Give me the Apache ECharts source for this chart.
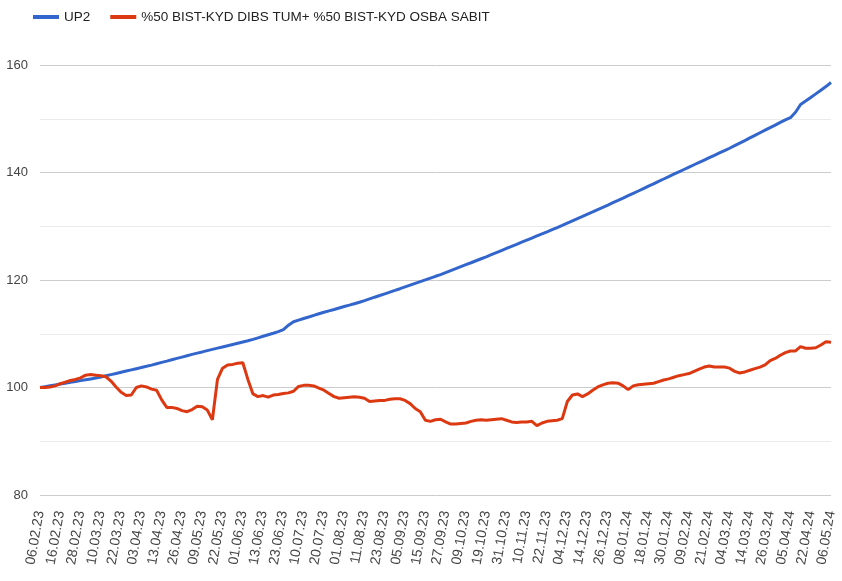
<!DOCTYPE html>
<html>
<head>
<meta charset="utf-8">
<script src="https://cdn.jsdelivr.net/npm/echarts@6/dist/echarts.min.js"></script>
<style>html,body{margin:0;padding:0;background:#fff;}#c{width:842px;height:581px;}</style>
</head>
<body>
<div id="c"></div>
<script>
const tickLabels = ["06.02.23","16.02.23","28.02.23","10.03.23","22.03.23","03.04.23","13.04.23","26.04.23","09.05.23","22.05.23","01.06.23","13.06.23","23.06.23","10.07.23","20.07.23","01.08.23","11.08.23","23.08.23","05.09.23","15.09.23","27.09.23","09.10.23","19.10.23","31.10.23","10.11.23","22.11.23","04.12.23","14.12.23","26.12.23","08.01.24","18.01.24","30.01.24","09.02.24","21.02.24","04.03.24","14.03.24","26.03.24","05.04.24","22.04.24","06.05.24"];

const seriesNames = ["UP2", "%50 BIST-KYD DIBS TUM+ %50 BIST-KYD OSBA SABIT"];

const up2 = [100.0,100.16,100.32,100.48,100.64,100.80,100.96,101.12,101.28,101.44,101.60,101.76,101.96,102.18,102.40,102.62,102.84,103.06,103.28,103.50,
103.72,103.94,104.17,104.42,104.67,104.91,105.16,105.41,105.66,105.91,106.16,106.40,106.62,106.86,107.09,107.32,107.55,107.78,108.01,108.24,
108.47,108.70,108.96,109.24,109.53,109.82,110.10,110.39,110.75,111.6,112.23,112.53,112.83,113.12,113.42,113.72,114.0,114.26,114.52,114.79,
115.06,115.32,115.59,115.86,116.16,116.48,116.80,117.11,117.43,117.75,118.06,118.38,118.71,119.04,119.37,119.70,120.03,120.36,120.69,121.01,
121.38,121.75,122.11,122.48,122.85,123.21,123.58,123.95,124.31,124.70,125.09,125.48,125.87,126.26,126.64,127.03,127.42,127.81,128.20,128.59,
128.97,129.36,129.75,130.15,130.58,131.00,131.42,131.84,132.27,132.68,133.11,133.53,133.95,134.38,134.80,135.23,135.68,136.12,136.56,137.01,
137.46,137.89,138.34,138.79,139.23,139.68,140.12,140.56,141.00,141.44,141.87,142.32,142.76,143.19,143.64,144.08,144.51,144.99,145.47,145.94,
146.43,146.91,147.39,147.87,148.35,148.83,149.31,149.79,150.2,151.2,152.66,153.3,153.96,154.63,155.3,155.99,156.75];

const bist = [100.0,100.0,100.1,100.3,100.7,101.0,101.3,101.5,101.8,102.3,102.4,102.3,102.2,102.0,101.2,100.1,99.1,98.5,98.6,100.0,
100.3,100.1,99.7,99.5,97.7,96.3,96.3,96.1,95.7,95.5,95.9,96.5,96.4,95.8,94.0,101.5,103.6,104.2,104.3,104.5,
104.6,101.5,98.8,98.3,98.5,98.2,98.6,98.7,98.9,99.0,99.3,100.2,100.4,100.4,100.3,99.9,99.5,98.9,98.3,98.0,
98.1,98.2,98.3,98.2,98.0,97.4,97.5,97.6,97.6,97.8,97.9,97.9,97.6,97.0,96.1,95.5,93.9,93.7,94.0,94.1,
93.6,93.2,93.2,93.3,93.4,93.7,93.9,94.0,93.9,94.0,94.1,94.2,93.9,93.6,93.5,93.6,93.6,93.7,92.9,93.4,
93.7,93.8,93.9,94.2,97.4,98.6,98.8,98.3,98.8,99.5,100.1,100.5,100.8,100.9,100.8,100.3,99.6,100.3,100.5,100.6,
100.7,100.8,101.1,101.4,101.6,101.9,102.2,102.4,102.6,103.0,103.4,103.8,104.0,103.8,103.8,103.8,103.6,103.0,102.7,102.9,
103.2,103.5,103.8,104.2,105.0,105.4,106.0,106.5,106.8,106.8,107.6,107.3,107.3,107.4,107.9,108.5,108.4];

const stepsPerTick = 4;
const categories = [];
for (let k = 0; k < tickLabels.length; k++) {
  categories.push(tickLabels[k]);
  if (k < tickLabels.length - 1) {
    for (let s = 1; s < stepsPerTick; s++) categories.push(tickLabels[k] + "+" + s);
  }
}

const chart = echarts.init(document.getElementById('c'), null, {renderer: 'canvas'});
chart.setOption({
  animation: false,
  backgroundColor: '#ffffff',
  textStyle: {fontFamily: 'Liberation Sans, Arial, sans-serif'},
  legend: {
    left: 28, top: 5,
    itemWidth: 26, itemHeight: 4, itemGap: 20,
    icon: 'rect',
    textStyle: {fontSize: 13.5, color: '#222', fontFamily: 'Liberation Sans, Arial, sans-serif'},
    data: seriesNames
  },
  grid: {left: 40, right: 11, top: 65, bottom: 86, containLabel: false},
  xAxis: {
    type: 'category',
    data: categories,
    boundaryGap: false,
    axisLine: {show: false},
    axisTick: {show: false},
    splitLine: {show: false},
    axisLabel: {
      interval: stepsPerTick - 1,
      rotate: 80,
      fontSize: 14,
      color: '#444',
      margin: 16,
      fontFamily: 'Liberation Sans, Arial, sans-serif'
    }
  },
  yAxis: {
    type: 'value',
    min: 80, max: 160, interval: 20,
    axisLine: {show: false},
    axisTick: {show: false},
    axisLabel: {fontSize: 13, color: '#444', margin: 12, fontFamily: 'Liberation Sans, Arial, sans-serif'},
    splitLine: {lineStyle: {color: '#cccccc', width: 1}},
    minorTick: {show: false, splitNumber: 2},
    minorSplitLine: {show: true, lineStyle: {color: '#ebebeb', width: 1}}
  },
  series: [
    {name: seriesNames[0], type: 'line', data: up2, showSymbol: false, symbol: 'none',
     lineStyle: {color: '#3366cc', width: 3}, itemStyle: {color: '#3366cc'}, z: 2},
    {name: seriesNames[1], type: 'line', data: bist, showSymbol: false, symbol: 'none',
     lineStyle: {color: '#dc3912', width: 3}, itemStyle: {color: '#dc3912'}, z: 3}
  ]
});
</script>
</body>
</html>
